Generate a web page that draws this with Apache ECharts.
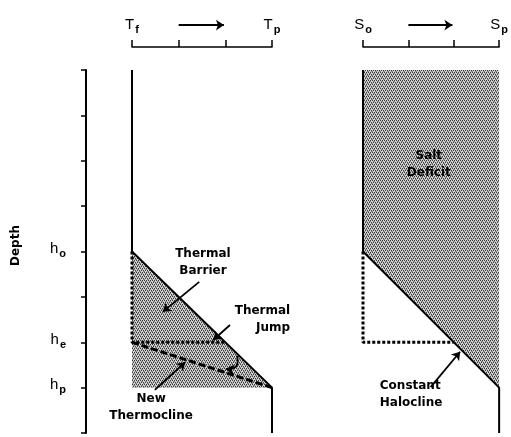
<!DOCTYPE html>
<html>
<head>
<meta charset="utf-8">
<script src="https://cdn.jsdelivr.net/npm/echarts@6/dist/echarts.min.js"></script>
<style>
  html, body { margin: 0; padding: 0; background: #fff; }
  #chart { width: 511px; height: 437px; }
</style>
</head>
<body>
<div id="chart"></div>
<script>
// depth in units (0 = surface, 8 = bottom of plot), x in scale units (0..3)
const depthTicks = [0, 1, 2, 3, 4, 5, 6, 7, 8];
const depthLabels = { 4: 'o', 6: 'e', 7: 'p' };
const tempEnds = { 0: 'f', 3: 'p' };
const saltEnds = { 0: 'o', 3: 'p' };

const tempProfile = [[0, 0], [0, 4], [3, 7], [3, 8]];
const tempShade = [[0, 4], [0, 7], [3, 7]];
const tempMixed = [[0, 4], [0, 6], [2, 6]];
const newThermocline = [[0, 6], [3, 7]];

const saltProfile = [[0, 0], [0, 4], [3, 7], [3, 8]];
const saltShade = [[0, 0], [0, 4], [3, 7], [3, 0]];
const saltMixed = [[0, 4], [0, 6], [2, 6]];

// annotations: [text, x, depth, align]
const tempNotes = [
  ['Thermal\nBarrier', 1.52, 4.25, 'center'],
  ['Thermal\nJump', 3.39, 5.49, 'right'],
  ['New\nThermocline', 0.41, 7.43, 'center']
];
const saltNotes = [
  ['Salt\nDeficit', 1.45, 2.07, 'center'],
  ['Constant\nHalocline', 0.37, 7.14, 'left']
];
const tempArrows = [
  [[1.44, 4.67], [0.66, 5.33]],
  [[2.10, 5.62], [1.74, 5.95]],
  [[0.49, 7.05], [1.14, 6.44]],
  [[1.00, -0.99], [1.97, -0.99]]
];
const jumpArrow = [[2.25, 6.30], [2.01, 6.59]];
const saltArrows = [
  [[1.49, 6.99], [2.14, 6.21]],
  [[1.00, -0.99], [1.97, -0.99]]
];

// stipple fill like the halftone screen
const pat = document.createElement('canvas');
pat.width = 4; pat.height = 4;
const pc = pat.getContext('2d');
pc.fillStyle = '#d2d2d2'; pc.fillRect(0, 0, 4, 4);
pc.fillStyle = '#3a3a3a';
[[0, 0], [2, 0], [1, 2], [3, 2]].forEach(p => pc.fillRect(p[0], p[1], 1, 1));
pc.fillStyle = '#858585';
[[1, 1], [3, 3], [0, 3], [2, 1]].forEach(p => pc.fillRect(p[0], p[1], 1, 1));
const stipple = { image: pat, repeat: 'repeat' };

const FONT = 'DejaVu Sans';
const subRich = {
  b: { fontFamily: 'Liberation Sans', fontSize: 15, color: '#000', lineHeight: 20, verticalAlign: 'top' },
  s: { fontFamily: 'Liberation Sans', fontSize: 11, fontWeight: 'bold', color: '#000', lineHeight: 20, verticalAlign: 'top', padding: [7, 0, 0, 1] }
};

function topAxis(idx, letter, ends) {
  return {
    gridIndex: idx, type: 'value', min: 0, max: 3, interval: 1,
    position: 'top', offset: 23,
    axisLine: { show: true, onZero: false, lineStyle: { color: '#000', width: 1.5 } },
    axisTick: { show: true, length: 7, lineStyle: { color: '#000', width: 1.5 } },
    splitLine: { show: false },
    axisLabel: {
      margin: 10,
      formatter: v => ends[v] ? '{b|' + letter + '}{s|' + ends[v] + '}' : '',
      rich: subRich
    }
  };
}

function polygon(points) {
  return function (params, api) {
    return {
      type: 'polygon',
      shape: { points: points.map(p => api.coord(p)) },
      style: { fill: stipple }
    };
  };
}

function lineSeries(idx, data, width, dash) {
  return {
    type: 'line', xAxisIndex: idx, yAxisIndex: idx, data: data,
    showSymbol: false, silent: true,
    lineStyle: { color: '#000', width: width, type: dash || 'solid', cap: 'butt' }
  };
}

function noteSeries(idx, notes) {
  return {
    type: 'scatter', xAxisIndex: idx, yAxisIndex: idx, symbolSize: 0, clip: false,
    itemStyle: { opacity: 1 },
    data: notes.map(n => ({ value: [n[1], n[2]], label: { align: n[3] }, name: n[0] })),
    label: {
      show: true, position: 'inside', formatter: p => p.name,
      fontFamily: FONT, fontWeight: 'bold', fontSize: 12, color: '#000', lineHeight: 17
    }
  };
}

function arrowSeries(idx, arrows, curve) {
  return {
    type: 'lines', coordinateSystem: 'cartesian2d', xAxisIndex: idx, yAxisIndex: idx,
    clip: false, symbol: ['none', 'arrow'], symbolSize: 8,
    lineStyle: { color: '#000', width: 1.8, opacity: 1, curveness: curve || 0 },
    data: arrows.map(a => ({ coords: a }))
  };
}

const chart = echarts.init(document.getElementById('chart'));
chart.setOption({
  animation: false,
  grid: [
    { left: 132, top: 70, width: 140, height: 363 },
    { left: 363, top: 70, width: 139, height: 363 }
  ],
  xAxis: [topAxis(0, 'T', tempEnds), topAxis(1, 'S', saltEnds)],
  yAxis: [
    {
      gridIndex: 0, type: 'value', min: 0, max: 8, interval: 1, inverse: true,
      offset: 46,
      name: 'Depth', nameLocation: 'middle', nameGap: 64, nameRotate: 90,
      nameTextStyle: { fontFamily: FONT, fontWeight: 'bold', fontSize: 12, color: '#000', padding: [0, 0, 0, 12] },
      axisLine: { show: true, onZero: false, lineStyle: { color: '#000', width: 2 } },
      axisTick: { show: true, length: 5, lineStyle: { color: '#000', width: 1.5 } },
      splitLine: { show: false },
      axisLabel: {
        margin: 20,
        formatter: v => depthLabels[v] ? '{b|h}{s|' + depthLabels[v] + '}' : '',
        rich: subRich
      }
    },
    { gridIndex: 1, type: 'value', min: 0, max: 8, inverse: true, show: false }
  ],
  series: [
    { type: 'custom', xAxisIndex: 0, yAxisIndex: 0, data: [[0, 0]], renderItem: polygon(tempShade), silent: true },
    { type: 'custom', xAxisIndex: 1, yAxisIndex: 1, data: [[0, 0]], renderItem: polygon(saltShade), silent: true },
    lineSeries(0, tempProfile, 2),
    lineSeries(0, tempMixed, 3, [3, 2]),
    lineSeries(0, newThermocline, 3, [7, 3]),
    lineSeries(1, saltProfile, 2),
    lineSeries(1, saltMixed, 3, [3, 2]),
    noteSeries(0, tempNotes),
    noteSeries(1, saltNotes),
    arrowSeries(0, tempArrows),
    arrowSeries(0, [jumpArrow], 0.7),
    arrowSeries(1, saltArrows)
  ]
});
</script>
</body>
</html>
